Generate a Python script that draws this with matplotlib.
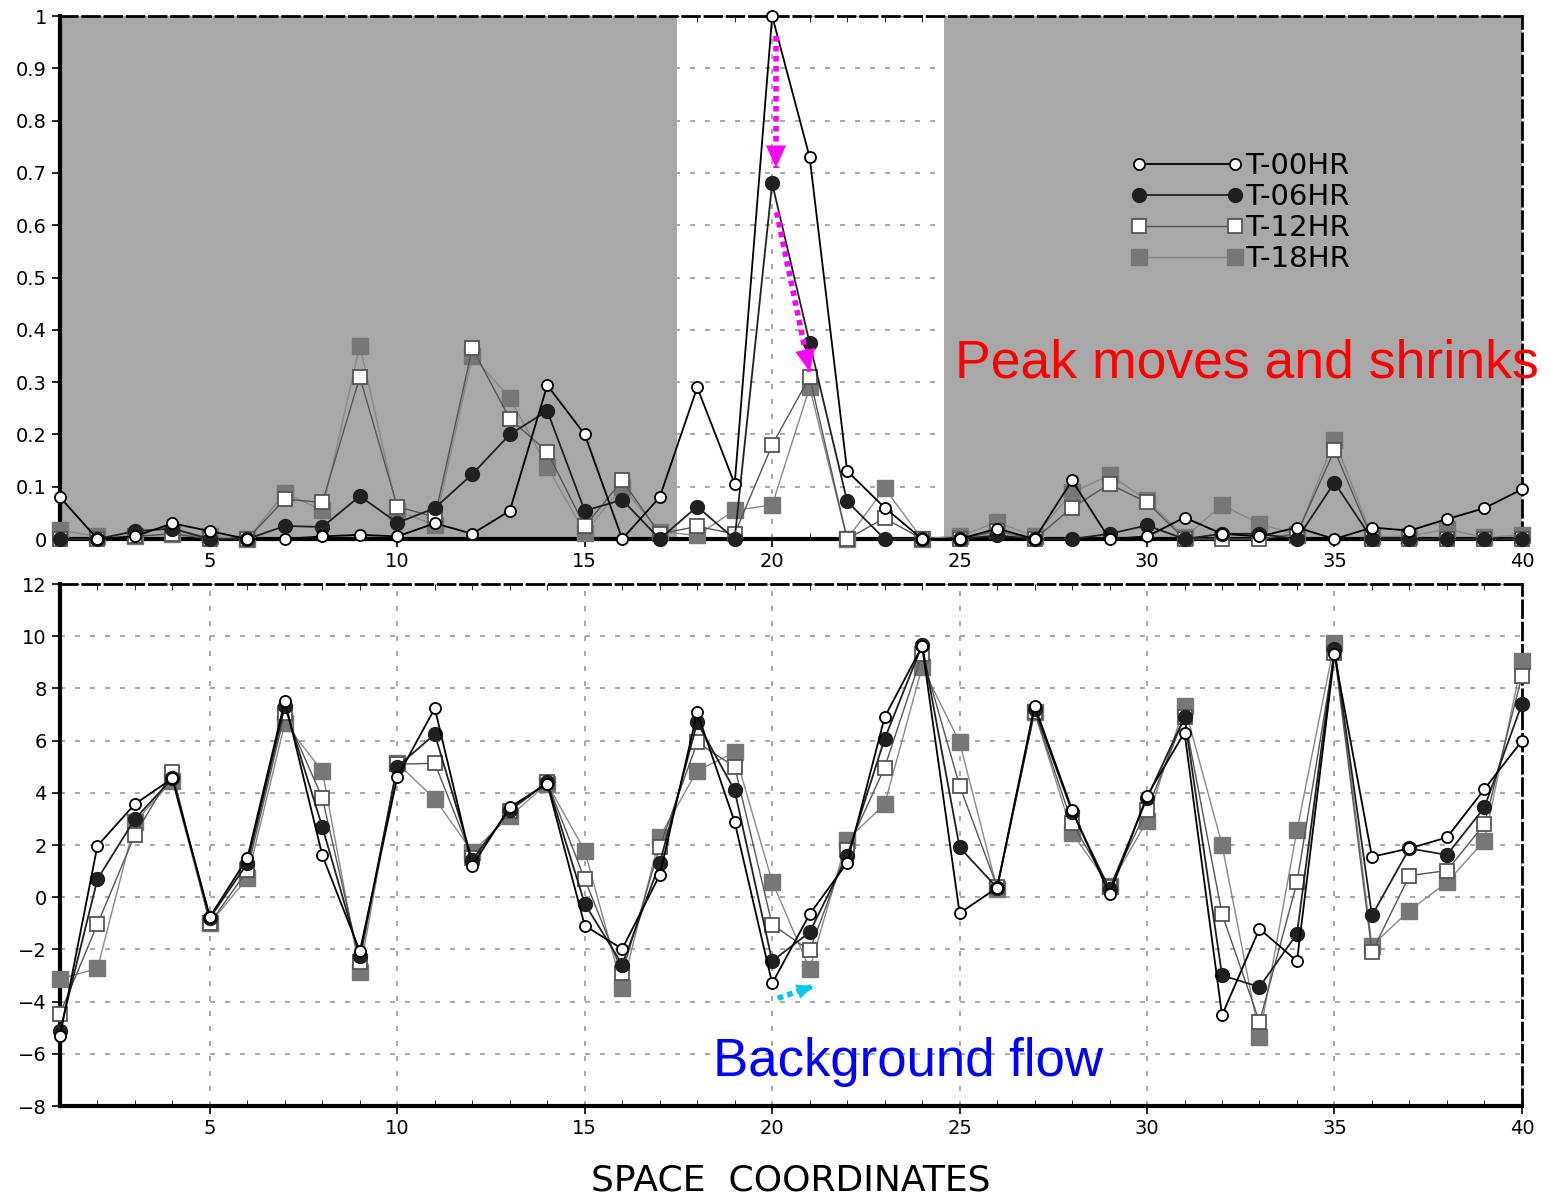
import numpy as np
import matplotlib
matplotlib.use("Agg")
import matplotlib.pyplot as plt
from matplotlib.ticker import MultipleLocator

coords = np.arange(1, 41)
labels = ["T-00HR", "T-06HR", "T-12HR", "T-18HR"]

# upper panel: normalised perturbation amplitude
amp_t00 = [0.08, 0.0, 0.005, 0.03, 0.015, 0.0, 0.0, 0.005, 0.008, 0.005,
           0.03, 0.01, 0.054, 0.294, 0.2, 0.0, 0.08, 0.29, 0.105, 1.0,
           0.73, 0.13, 0.06, 0.0, 0.0, 0.02, 0.0, 0.112, 0.0, 0.005,
           0.041, 0.01, 0.005, 0.022, 0.0, 0.022, 0.016, 0.038, 0.059, 0.095]
amp_t06 = [0.0, 0.0, 0.015, 0.02, 0.0, 0.0, 0.025, 0.023, 0.082, 0.031,
           0.059, 0.124, 0.2, 0.245, 0.054, 0.075, 0.0, 0.062, 0.0, 0.68,
           0.375, 0.072, 0.0, 0.0, 0.0, 0.007, 0.0, 0.0, 0.01, 0.026,
           0.0, 0.01, 0.01, 0.0, 0.108, 0.0, 0.0, 0.0, 0.0, 0.0]
amp_t12 = [0.0, 0.0, 0.005, 0.01, 0.0, 0.0, 0.076, 0.07, 0.31, 0.062,
           0.042, 0.365, 0.23, 0.167, 0.024, 0.112, 0.01, 0.024, 0.01, 0.18,
           0.31, 0.0, 0.04, 0.0, 0.0, 0.015, 0.0, 0.06, 0.105, 0.07,
           0.0, 0.0, 0.0, 0.01, 0.17, 0.0, 0.0, 0.0, 0.0, 0.0]
amp_t18 = [0.017, 0.005, 0.005, 0.01, 0.005, 0.0, 0.088, 0.055, 0.37, 0.054,
           0.027, 0.35, 0.27, 0.138, 0.012, 0.1, 0.014, 0.007, 0.055, 0.065,
           0.29, 0.0, 0.097, 0.0, 0.006, 0.032, 0.005, 0.089, 0.122, 0.075,
           0.003, 0.065, 0.029, 0.008, 0.19, 0.005, 0.005, 0.019, 0.003, 0.008]

# lower panel: background flow
flow_t00 = [-5.33, 1.97, 3.57, 4.55, -0.75, 1.5, 7.53, 1.6, -2.07, 4.6,
            7.24, 1.2, 3.45, 4.35, -1.09, -1.98, 0.85, 7.08, 2.88, -3.3,
            -0.65, 1.32, 6.9, 9.62, -0.61, 0.36, 7.34, 3.35, 0.11, 3.89,
            6.31, -4.52, -1.21, -2.45, 9.3, 1.55, 1.87, 2.29, 4.14, 5.99]
flow_t06 = [-5.13, 0.69, 3.0, 4.55, -0.8, 1.3, 7.33, 2.69, -2.27, 5.0,
            6.25, 1.42, 3.35, 4.4, -0.25, -2.58, 1.3, 6.7, 4.09, -2.45,
            -1.34, 1.57, 6.07, 9.66, 1.91, 0.36, 7.2, 3.28, 0.3, 3.8,
            6.9, -2.99, -3.44, -1.4, 9.5, -0.7, 1.87, 1.62, 3.44, 7.4]
flow_t12 = [-4.47, -1.03, 2.4, 4.8, -1.0, 1.03, 7.07, 3.8, -2.47, 5.1,
            5.13, 1.5, 3.3, 4.4, 0.69, -2.9, 1.93, 5.93, 5.0, -1.05,
            -2.04, 1.82, 4.97, 9.3, 4.27, 0.4, 7.1, 2.84, 0.4, 3.35,
            6.9, -0.64, -4.78, 0.57, 9.36, -2.1, 0.83, 1.02, 2.8, 8.47]
flow_t18 = [-3.13, -2.73, 2.87, 4.47, -1.0, 0.73, 6.67, 4.83, -2.87, 5.13,
            3.77, 1.74, 3.1, 4.35, 1.78, -3.47, 2.31, 4.85, 5.55, 0.6,
            -2.75, 2.2, 3.56, 8.82, 5.94, 0.33, 7.09, 2.46, 0.43, 2.93,
            7.32, 2.01, -5.35, 2.57, 9.75, -1.85, -0.51, 0.57, 2.17, 9.04]

# unshaded window around the peak
window = (17.45, 24.58)

styles = [
    dict(color="black", lw=1.3, marker="o", ms=8, mfc="white", mec="black", mew=1.3),
    dict(color="#202020", lw=1.3, marker="o", ms=10, mfc="#202020", mec="#202020"),
    dict(color="#555555", lw=1.0, marker="s", ms=10, mfc="white", mec="#555555", mew=1.3),
    dict(color="#888888", lw=1.0, marker="s", ms=11, mfc="#777777", mec="#777777"),
]


def style_axis(ax, ylo, yhi, ystep):
    ax.set_xlim(1, 40)
    ax.set_ylim(ylo, yhi)
    ax.xaxis.set_major_locator(MultipleLocator(5))
    ax.xaxis.set_minor_locator(MultipleLocator(1))
    ax.yaxis.set_major_locator(MultipleLocator(ystep))
    ax.grid(True, which="major", color="#999999", lw=1.2, linestyle=(0, (3, 6)))
    ax.set_axisbelow(True)
    ax.tick_params(labelsize=14, length=6, width=1.2, direction="out")
    ax.tick_params(which="minor", length=4, direction="in", top=True, right=True)
    for side in ["left", "bottom"]:
        ax.spines[side].set_linewidth(3)
    for side in ["top", "right"]:
        ax.spines[side].set_linewidth(2)
        ax.spines[side].set_linestyle((0, (6, 2)))


def dotted_arrow(ax, start, end, color, lw, head):
    # dotted shaft plus a solid triangular head at the end
    ax.plot([start[0], end[0]], [start[1], end[1]], color=color, lw=lw,
            linestyle=(0, (1, 0.8)), zorder=5, solid_capstyle="butt")
    ax.annotate("", xy=end, xytext=start,
                arrowprops=dict(arrowstyle=f"-|>,head_length={head},head_width={head * 0.45}",
                                color=color, lw=0, shrinkA=0, shrinkB=0), zorder=6)


fig = plt.figure(figsize=(15.49, 11.97), dpi=100)
ax1 = fig.add_axes([0.0387, 0.5497, 0.9438, 0.4369])
ax2 = fig.add_axes([0.0387, 0.0760, 0.9438, 0.4361])

# shaded background outside the window
ax1.axvspan(1, window[0], color="#a8a8a8", lw=0, zorder=1)
ax1.axvspan(window[1], 40, color="#a8a8a8", lw=0, zorder=1)

for series, st, lab in zip([amp_t18, amp_t12, amp_t06, amp_t00], styles[::-1], labels[::-1]):
    ax1.plot(coords, series, label=lab, clip_on=False, zorder=3, **st)
for series, st in zip([flow_t18, flow_t12, flow_t06, flow_t00], styles[::-1]):
    ax2.plot(coords, series, clip_on=False, zorder=3, **st)

style_axis(ax1, 0, 1, 0.1)
style_axis(ax2, -8, 12, 2)
ax1.set_yticks(np.arange(0, 1.01, 0.1))
ax1.set_yticklabels(["0"] + [f"{v:.1f}" for v in np.arange(0.1, 0.95, 0.1)] + ["1"])

handles, labs = ax1.get_legend_handles_labels()
ax1.legend(handles[::-1], labs[::-1], loc="upper left", bbox_to_anchor=(0.714, 0.79),
           frameon=False, numpoints=2, handlelength=3.9, handletextpad=0.05,
           labelspacing=0.1, fontsize=21)

ax2.set_xlabel("SPACE  COORDINATES", fontsize=26, labelpad=18)

# arrows showing how the peak moves
dotted_arrow(ax1, (20.1, 0.962), (20.1, 0.71), "magenta", 4, 1.6)
dotted_arrow(ax1, (20.12, 0.625), (21.0, 0.32), "magenta", 4, 1.6)
dotted_arrow(ax2, (20.15, -3.87), (21.1, -3.41), "#00c8f0", 4, 1.2)

fig.text(955 / 1549, 1 - 364 / 1197, "Peak moves and shrinks", color="red",
         fontsize=38.5, family="Liberation Sans", va="center", ha="left")
fig.text(713 / 1549, 1 - 1062 / 1197, "Background flow", color="blue",
         fontsize=38, family="Liberation Sans", va="center", ha="left")

fig.savefig("out.png", dpi=100)
